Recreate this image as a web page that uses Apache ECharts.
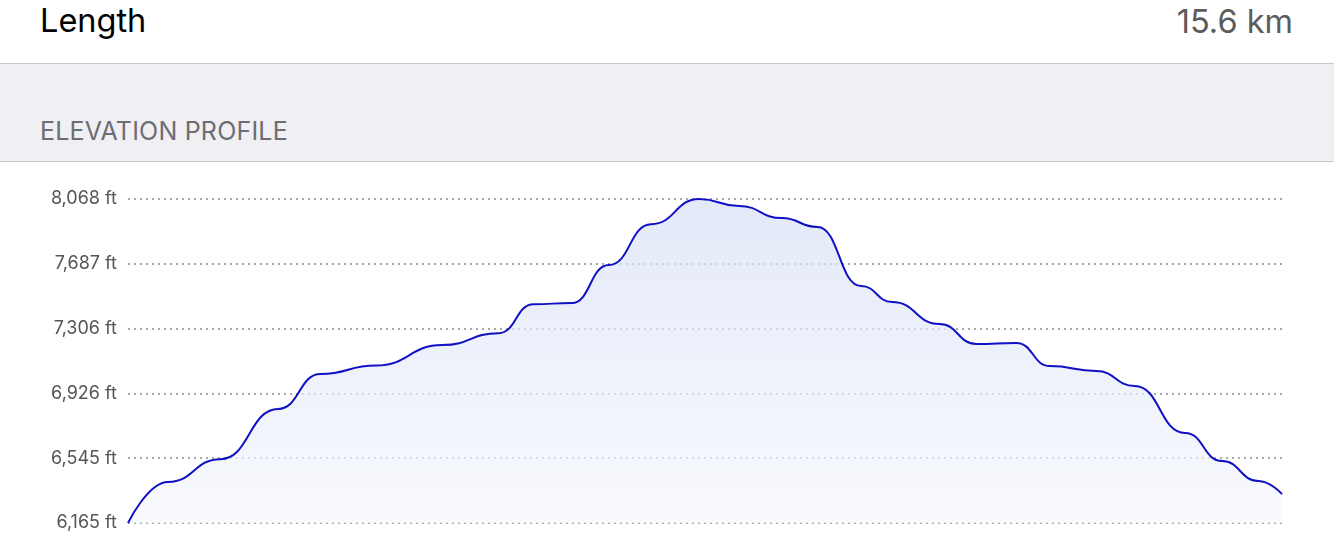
<!DOCTYPE html>
<html>
<head>
<meta charset="utf-8">
<script src="https://cdn.jsdelivr.net/npm/echarts@6/dist/echarts.min.js"></script>
<style>
  html, body { margin: 0; padding: 0; width: 1334px; height: 556px; overflow: hidden; background: #fff; font-family: Inter, 'Noto Sans', sans-serif; }
  .row { position: absolute; left: 0; top: 0; width: 1334px; height: 64px; border-bottom: 1px solid #c8c7cc; box-sizing: border-box; }
  .row .label { position: absolute; left: 40px; top: 1px; font-size: 32.5px; color: #000; }
  .row .value { position: absolute; right: 41px; top: 2px; font-size: 32.5px; color: #5c5c5c; }
  .band { position: absolute; left: 0; top: 64px; width: 1334px; height: 98px; background: #efeff4; border-bottom: 1px solid #c8c7cc; box-sizing: border-box; }
  .band .title { position: absolute; left: 40px; top: 52px; font-size: 25px; color: #6d6d72; letter-spacing: 0.2px; }
  #chart { position: absolute; left: 0; top: 162px; width: 1334px; height: 394px; }
</style>
</head>
<body>
<div class="row"><span class="label">Length</span><span class="value">15.6 km</span></div>
<div class="band"><span class="title">ELEVATION PROFILE</span></div>
<div id="chart"></div>
<script>
// distance along the route (km) and elevation (ft)
const distanceKm = [0, 0.54, 1.25, 2.03, 2.6, 3.35, 4.25, 5.01, 5.48, 6.0, 6.5, 7.07, 7.72, 8.26, 8.84, 9.32, 9.91, 10.33, 10.97, 11.47, 12.01, 12.46, 13.09, 13.61, 14.29, 14.79, 15.28, 15.6]
const elevationFt = [6165, 6406, 6540, 6835, 7040, 7090, 7210, 7280, 7450, 7457, 7680, 7920, 8068, 8027, 7956, 7904, 7557, 7463, 7334, 7216, 7222, 7087, 7058, 6970, 6694, 6529, 6412, 6335]
const yTickLabels = ['6,165 ft', '6,545 ft', '6,926 ft', '7,306 ft', '7,687 ft', '8,068 ft']

const yMin = 6165
const yMax = 8068
const yStep = (yMax - yMin) / (yTickLabels.length - 1)

const chart = echarts.init(document.getElementById('chart'), undefined, { renderer: 'canvas' })

chart.setOption({
  animation: false,
  grid: { top: 37, bottom: 33, left: 128, right: 52 },
  xAxis: {
    type: 'value',
    min: 0,
    max: 15.6,
    show: false,
  },
  yAxis: {
    type: 'value',
    min: yMin,
    max: yMax,
    interval: yStep,
    axisLine: { show: false },
    axisTick: { show: false },
    axisLabel: {
      color: '#555',
      fontSize: 18,
      fontFamily: 'Inter',
      margin: 11,
      formatter: v => yTickLabels[Math.round((v - yMin) / yStep)] || '',
    },
    splitLine: { lineStyle: { color: '#a8a8a8', width: 2, type: [2, 4] } },
  },
  series: [{
    type: 'line',
    data: distanceKm.map((d, i) => [d, elevationFt[i]]),
    smooth: 0.5,
    smoothMonotone: 'x',
    symbol: 'none',
    lineStyle: { color: '#1010c4', width: 2 },
    areaStyle: {
      origin: 'start',
      color: new echarts.graphic.LinearGradient(0, 0, 0, 1, [
        { offset: 0, color: '#d6dff4' },
        { offset: 1, color: '#f5f7fd' },
      ]),
    },
  }],
})
</script>
</body>
</html>
